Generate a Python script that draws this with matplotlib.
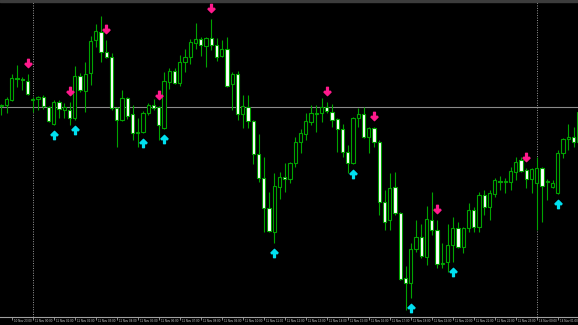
import matplotlib
matplotlib.use("Agg")
import matplotlib.pyplot as plt
from matplotlib.path import Path
from matplotlib.patches import Rectangle
from matplotlib.transforms import ScaledTranslation

# M15 bars, 10 Nov 22:30 -> 14 Nov 01:00
opens = [1.0894, 1.0895, 1.0900, 1.0922, 1.0921, 1.0919, 1.0900, 1.0901, 1.0903, 1.0893,
         1.0876, 1.0898, 1.0890, 1.0890, 1.0882, 1.0924, 1.0909, 1.0927, 1.0960, 1.0968,
         1.0948, 1.0943, 1.0892, 1.0880, 1.0902, 1.0886, 1.0867, 1.0868, 1.0887, 1.0895,
         1.0893, 1.0872, 1.0918, 1.0929, 1.0917, 1.0938, 1.0943, 1.0957, 1.0961, 1.0954,
         1.0962, 1.0955, 1.0944, 1.0951, 1.0916, 1.0926, 1.0886, 1.0893, 1.0879, 1.0846,
         1.0822, 1.0792, 1.0768, 1.0813, 1.0823, 1.0821, 1.0837, 1.0858, 1.0866, 1.0878,
         1.0886, 1.0887, 1.0893, 1.0888, 1.0881, 1.0871, 1.0848, 1.0837, 1.0882, 1.0886,
         1.0863, 1.0872, 1.0858, 1.0798, 1.0780, 1.0813, 1.0787, 1.0722, 1.0717, 1.0751,
         1.0763, 1.0743, 1.0780, 1.0770, 1.0736, 1.0738, 1.0755, 1.0772, 1.0753, 1.0772,
         1.0790, 1.0773, 1.0805, 1.0793, 1.0806, 1.0819, 1.0818, 1.0818, 1.0828, 1.0840,
         1.0830, 1.0821, 1.0817, 1.0832, 1.0818, 1.0813, 1.0807, 1.0847, 1.0861, 1.0863,
         1.0858]
highs = [1.0896, 1.0903, 1.0926, 1.0935, 1.0923, 1.0926, 1.0903, 1.0904, 1.0905, 1.0894,
         1.0900, 1.0900, 1.0897, 1.0898, 1.0934, 1.0927, 1.0938, 1.0964, 1.0976, 1.0984,
         1.0960, 1.0947, 1.0893, 1.0910, 1.0903, 1.0895, 1.0882, 1.0889, 1.0897, 1.0901,
         1.0894, 1.0928, 1.0932, 1.0932, 1.0945, 1.0951, 1.0961, 1.0977, 1.0963, 1.0963,
         1.0981, 1.0962, 1.0960, 1.0963, 1.0928, 1.0929, 1.0905, 1.0905, 1.0880, 1.0866,
         1.0843, 1.0808, 1.0827, 1.0828, 1.0837, 1.0838, 1.0863, 1.0871, 1.0887, 1.0895,
         1.0895, 1.0902, 1.0898, 1.0896, 1.0882, 1.0876, 1.0855, 1.0883, 1.0892, 1.0893,
         1.0873, 1.0873, 1.0860, 1.0810, 1.0827, 1.0828, 1.0788, 1.0734, 1.0757, 1.0780,
         1.0776, 1.0794, 1.0808, 1.0780, 1.0757, 1.0776, 1.0783, 1.0778, 1.0773, 1.0797,
         1.0793, 1.0808, 1.0810, 1.0810, 1.0822, 1.0824, 1.0822, 1.0833, 1.0843, 1.0843,
         1.0832, 1.0832, 1.0843, 1.0833, 1.0821, 1.0820, 1.0850, 1.0862, 1.0876, 1.0873,
         1.0890]
lows = [1.0885, 1.0887, 1.0899, 1.0913, 1.0910, 1.0905, 1.0888, 1.0890, 1.0891, 1.0878,
        1.0875, 1.0882, 1.0882, 1.0875, 1.0880, 1.0908, 1.0888, 1.0915, 1.0953, 1.0938,
        1.0942, 1.0890, 1.0853, 1.0879, 1.0881, 1.0860, 1.0853, 1.0867, 1.0885, 1.0890,
        1.0860, 1.0871, 1.0911, 1.0916, 1.0914, 1.0928, 1.0936, 1.0951, 1.0944, 1.0933,
        1.0950, 1.0939, 1.0943, 1.0913, 1.0890, 1.0880, 1.0872, 1.0872, 1.0836, 1.0818,
        1.0768, 1.0768, 1.0757, 1.0801, 1.0808, 1.0817, 1.0833, 1.0847, 1.0860, 1.0875,
        1.0868, 1.0878, 1.0887, 1.0873, 1.0848, 1.0843, 1.0827, 1.0836, 1.0873, 1.0862,
        1.0847, 1.0853, 1.0785, 1.0770, 1.0770, 1.0785, 1.0720, 1.0690, 1.0702, 1.0748,
        1.0742, 1.0735, 1.0765, 1.0732, 1.0732, 1.0728, 1.0738, 1.0752, 1.0747, 1.0768,
        1.0768, 1.0768, 1.0785, 1.0780, 1.0803, 1.0810, 1.0807, 1.0810, 1.0820, 1.0828,
        1.0812, 1.0807, 1.0770, 1.0778, 1.0800, 1.0812, 1.0806, 1.0842, 1.0850, 1.0853,
        1.0857]
closes = [1.0895, 1.0901, 1.0922, 1.0921, 1.0920, 1.0906, 1.0901, 1.0903, 1.0894, 1.0879,
          1.0898, 1.0891, 1.0893, 1.0882, 1.0924, 1.0910, 1.0926, 1.0959, 1.0969, 1.0948,
          1.0943, 1.0892, 1.0880, 1.0902, 1.0884, 1.0867, 1.0868, 1.0887, 1.0895, 1.0892,
          1.0875, 1.0919, 1.0929, 1.0917, 1.0938, 1.0943, 1.0958, 1.0961, 1.0955, 1.0962,
          1.0955, 1.0943, 1.0951, 1.0914, 1.0926, 1.0886, 1.0894, 1.0879, 1.0846, 1.0822,
          1.0792, 1.0769, 1.0814, 1.0823, 1.0821, 1.0837, 1.0858, 1.0867, 1.0879, 1.0887,
          1.0887, 1.0893, 1.0889, 1.0880, 1.0871, 1.0848, 1.0837, 1.0882, 1.0886, 1.0863,
          1.0872, 1.0858, 1.0798, 1.0778, 1.0812, 1.0787, 1.0721, 1.0717, 1.0751, 1.0763,
          1.0744, 1.0781, 1.0770, 1.0736, 1.0737, 1.0755, 1.0772, 1.0753, 1.0772, 1.0790,
          1.0773, 1.0805, 1.0793, 1.0807, 1.0820, 1.0818, 1.0819, 1.0829, 1.0838, 1.0829,
          1.0821, 1.0831, 1.0832, 1.0814, 1.0819, 1.0817, 1.0847, 1.0861, 1.0863, 1.0858,
          1.0888]

sell_bars = [5, 13, 20, 30, 40, 62, 71, 83, 100]
buy_bars = [10, 14, 27, 31, 52, 67, 78, 86, 106]
bid = 1.0893
day_breaks = [6, 102]
tick_bars = list(range(2, 110, 4))
tick_labels = (["10 Nov 23:00"] + ["11 Nov %02d:00" % h for h in range(24)]
               + ["14 Nov 00:00", "14 Nov 01:00"])

green = "#00a400"

fig = plt.figure(figsize=(5.78, 3.25), dpi=100, facecolor="black")
ax = fig.add_axes([0, 8 / 325, 1, 317 / 325])
ax.set_facecolor("black")
ax.set_xlim(-0.248, 109.85)
ax.set_ylim(1.0683, 1.1000)

x = list(range(len(opens)))
ax.vlines(x, lows, highs, color=green, lw=0.8, zorder=2)
bottoms = [min(o, c) for o, c in zip(opens, closes)]
heights = [abs(c - o) for o, c in zip(opens, closes)]
fills = ["black" if c > o else "white" for o, c in zip(opens, closes)]
ax.bar(x, heights, bottom=bottoms, width=0.6, color=fills, edgecolor=green,
       linewidth=0.8, zorder=3)

ax.axhline(bid, color="#8a8a8a", lw=0.8, zorder=1.5)
for k in day_breaks:
    ax.axvline(k, color="#9a9a9a", lw=0.7, ls=(0, (1, 1.5)), zorder=1.5)

# thick arrow marker
up = Path([(0, 1), (0.85, 0.15), (0.6, -0.1), (0.22, 0.28), (0.22, -1),
           (-0.22, -1), (-0.22, 0.28), (-0.6, -0.1), (-0.85, 0.15), (0, 1)],
          [Path.MOVETO] + [Path.LINETO] * 8 + [Path.CLOSEPOLY])
down = Path([(vx, -vy) for vx, vy in up.vertices], up.codes)

below = ax.transData + ScaledTranslation(0, -0.10, fig.dpi_scale_trans)
above = ax.transData + ScaledTranslation(0, 0.11, fig.dpi_scale_trans)
ax.plot(buy_bars, [lows[k] for k in buy_bars], ls="none", marker=up,
        ms=6, color="#00e0f0", transform=below, zorder=4)
ax.plot(sell_bars, [highs[k] for k in sell_bars], ls="none", marker=down,
        ms=6, color="#ff1a8c", transform=above, zorder=4)

for s in ["top", "left", "right"]:
    ax.spines[s].set_visible(False)
ax.spines["bottom"].set_color("#a0a0a0")
ax.spines["bottom"].set_linewidth(0.8)
ax.set_yticks([])
ax.set_xticks(tick_bars)
ax.set_xticklabels([])
ax.tick_params(axis="x", length=2.5, width=0.6, color="#a0a0a0", direction="out")
for k, lab in zip(tick_bars, tick_labels):
    ax.annotate(lab, (k, 0), xycoords=ax.get_xaxis_transform(), xytext=(1.5, -1.5),
                textcoords="offset points", ha="left", va="top", fontsize=2.2,
                family="Liberation Sans", color="#c8c8c8")

fig.add_artist(Rectangle((0, 1 - 2 / 325), 1, 2 / 325, transform=fig.transFigure,
                         color="#3c3c3c"))

fig.savefig("out.png", dpi=100, facecolor="black")
